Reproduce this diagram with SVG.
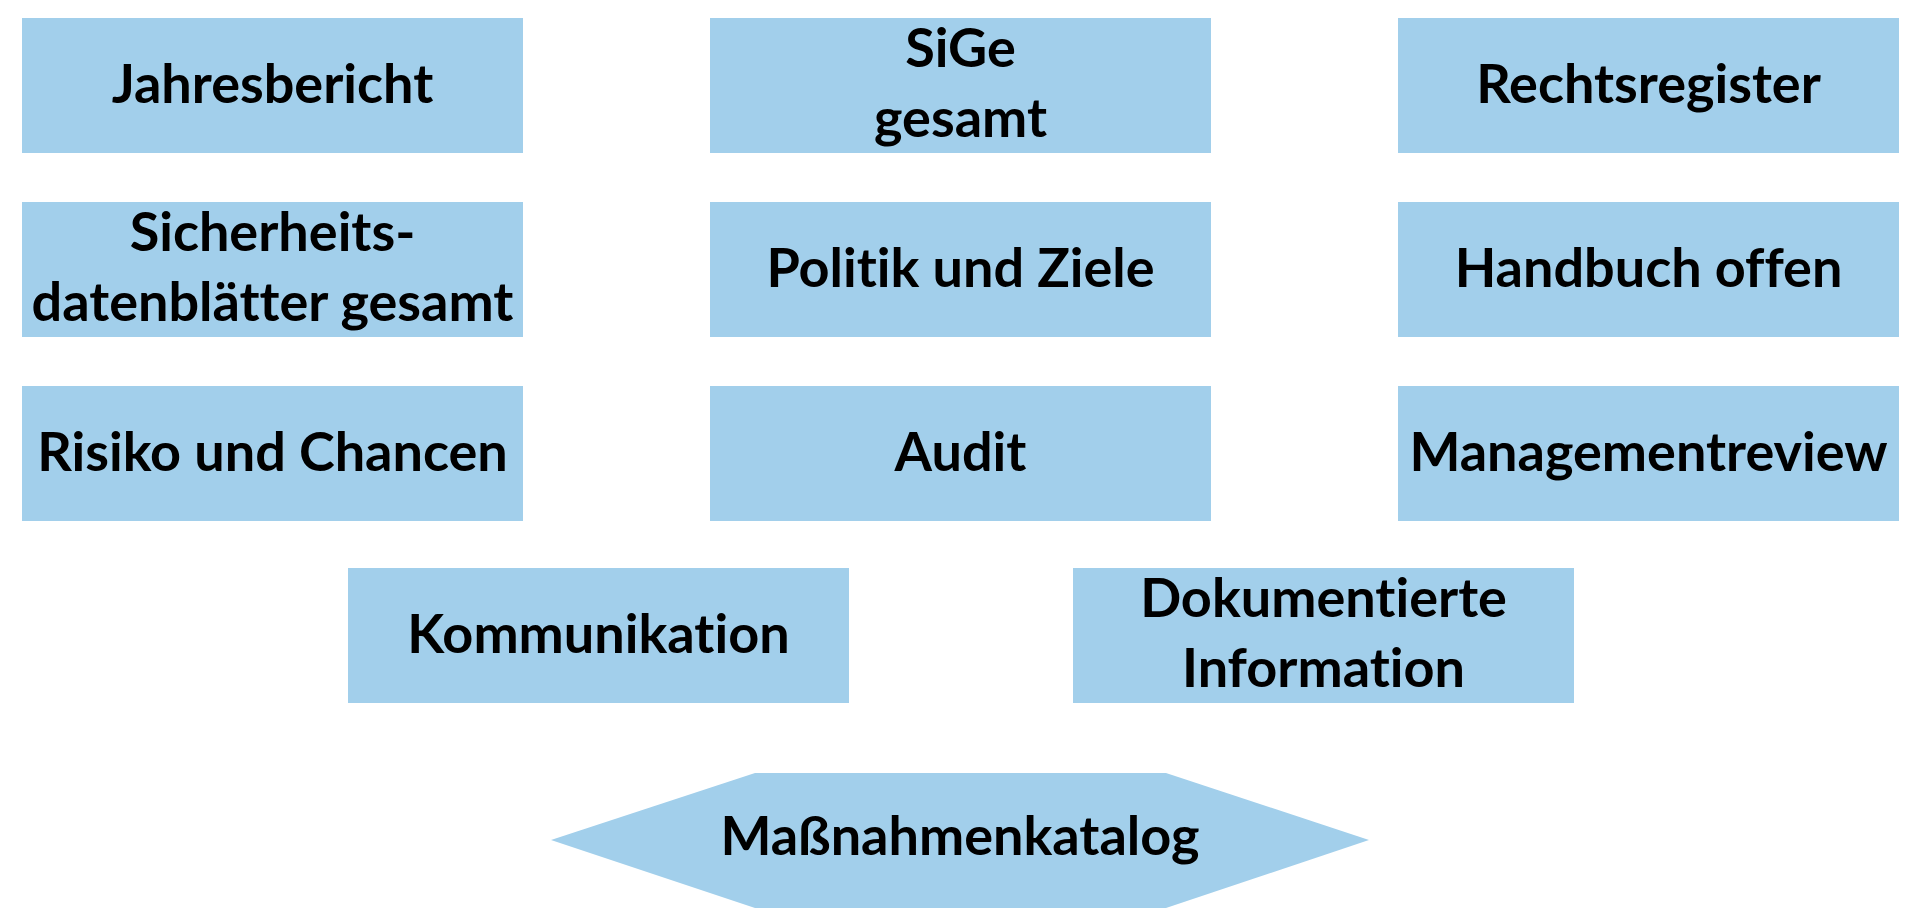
<svg xmlns="http://www.w3.org/2000/svg" width="1920" height="908" viewBox="0 0 1920 908">
<style>
.box{fill:#A2CFEB;}
.t{font-family:Lato,"Open Sans","Liberation Sans",sans-serif;font-weight:bold;font-size:54px;fill:#000;text-anchor:middle;font-variant-ligatures:none;font-feature-settings:"liga" 0,"dlig" 0;}
</style>
<rect width="1920" height="908" fill="#fff"/>
<g id="connectors"></g>
<g id="jahresbericht"><rect class="box" x="22" y="18" width="501" height="135"/><text class="t" x="272.5" y="103">Jahresbericht</text></g>
<g id="sige"><rect class="box" x="710" y="18" width="501" height="135"/><text class="t" x="960.5" y="67">SiGe</text><text class="t" x="960.5" y="137">gesamt</text></g>
<g id="rechtsregister"><rect class="box" x="1398" y="18" width="501" height="135"/><text class="t" x="1648.5" y="103">Rechtsregister</text></g>
<g id="sicherheitsdatenblaetter"><rect class="box" x="22" y="202" width="501" height="135"/><text class="t" x="272.5" y="251">Sicherheits-</text><text class="t" x="272.5" y="321">datenblätter gesamt</text></g>
<g id="politik"><rect class="box" x="710" y="202" width="501" height="135"/><text class="t" x="960.5" y="287">Politik und Ziele</text></g>
<g id="handbuch"><rect class="box" x="1398" y="202" width="501" height="135"/><text class="t" x="1648.5" y="287">Handbuch offen</text></g>
<g id="risiko"><rect class="box" x="22" y="386" width="501" height="135"/><text class="t" x="272.5" y="471">Risiko und Chancen</text></g>
<g id="audit"><rect class="box" x="710" y="386" width="501" height="135"/><text class="t" x="960.5" y="471">Audit</text></g>
<g id="managementreview"><rect class="box" x="1398" y="386" width="501" height="135"/><text class="t" x="1648.5" y="471">Managementreview</text></g>
<g id="kommunikation"><rect class="box" x="348" y="568" width="501" height="135"/><text class="t" x="598.5" y="653">Kommunikation</text></g>
<g id="dokumentierte"><rect class="box" x="1073" y="568" width="501" height="135"/><text class="t" x="1323.5" y="617">Dokumentierte</text><text class="t" x="1323.5" y="687">Information</text></g>
<g id="massnahmenkatalog"><polygon class="box" points="551,840 755,773 1166,773 1369,840 1166,908 755,908"/><text class="t" x="960" y="855">Maßnahmenkatalog</text></g>
</svg>
